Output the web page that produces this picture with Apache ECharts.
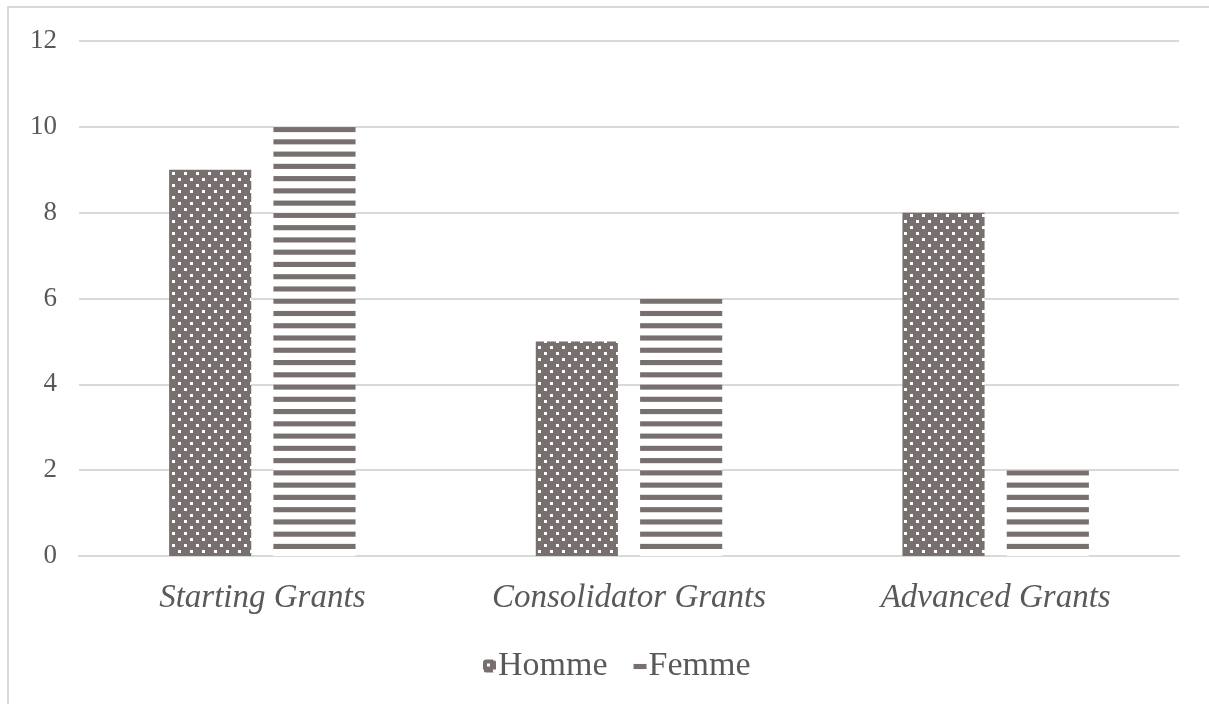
<!DOCTYPE html>
<html>
<head>
<meta charset="utf-8">
<script src="https://cdn.jsdelivr.net/npm/echarts@6/dist/echarts.min.js"></script>
<style>
  html, body { margin: 0; padding: 0; background: #ffffff; }
  #chart { width: 1209px; height: 704px; }
</style>
</head>
<body>
<div id="chart"></div>
<script>
// ---- data ----
const categories = ['Starting Grants', 'Consolidator Grants', 'Advanced Grants'];
const hommeValues = [9, 5, 8];
const femmeValues = [10, 6, 2];
const seriesNames = ['Homme', 'Femme'];
const yTicks = [0, 2, 4, 6, 8, 10, 12];

// ---- patterns ----
const BAR = '#77706e';
function dotPattern() {
  const c = document.createElement('canvas');
  c.width = 12; c.height = 12;
  const g = c.getContext('2d');
  g.fillStyle = BAR; g.fillRect(0, 0, 12, 12);
  g.fillStyle = '#ffffff';
  g.fillRect(2, 2, 3, 3);
  g.fillRect(8, 8, 3, 3);
  return c;
}
function stripePattern() {
  const c = document.createElement('canvas');
  c.width = 12; c.height = 12;
  const g = c.getContext('2d');
  g.fillStyle = '#ffffff'; g.fillRect(0, 0, 12, 12);
  g.fillStyle = BAR; g.fillRect(0, 0, 12, 5);
  return c;
}

const FONT = '"Liberation Serif", "Times New Roman", serif';
const TXT = '#595959';

const chart = echarts.init(document.getElementById('chart'), null, { renderer: 'canvas' });
chart.setOption({
  animation: false,
  backgroundColor: '#ffffff',
  graphic: [{
    type: 'rect',
    shape: { x: 8, y: 7, width: 1220, height: 720 },
    style: { fill: 'none', stroke: '#d9d9d9', lineWidth: 2 },
    silent: true
  }],
  grid: { left: 79, right: 30, top: 41, bottom: 148, containLabel: false },
  legend: {
    data: seriesNames,
    top: 644,
    left: 478,
    itemWidth: 13,
    itemHeight: 13,
    itemGap: 26,
    textStyle: { fontFamily: FONT, fontSize: 34, color: TXT, padding: [0, 0, 0, -3] }
  },
  xAxis: {
    type: 'category',
    data: categories,
    axisLine: { show: true, lineStyle: { color: '#d9d9d9', width: 2 } },
    axisTick: { show: false },
    axisLabel: {
      fontFamily: FONT, fontStyle: 'italic', fontSize: 33, color: TXT, margin: 26
    }
  },
  yAxis: {
    type: 'value',
    min: yTicks[0],
    max: yTicks[yTicks.length - 1],
    interval: 2,
    axisLine: { show: false },
    axisTick: { show: false },
    splitLine: { lineStyle: { color: '#d9d9d9', width: 2 } },
    axisLabel: { fontFamily: FONT, fontSize: 27, color: TXT, margin: 22 }
  },
  series: [
    {
      name: seriesNames[0],
      type: 'bar',
      data: hommeValues,
      barWidth: '22.4%',
      barGap: '27%',
      itemStyle: { color: { image: dotPattern(), repeat: 'repeat', x: 170, y: 170 } }
    },
    {
      name: seriesNames[1],
      type: 'bar',
      data: femmeValues,
      barWidth: '22.4%',
      itemStyle: { color: { image: stripePattern(), repeat: 'repeat', y: 127, scaleY: 1.0217 } }
    }
  ]
});
</script>
</body>
</html>
